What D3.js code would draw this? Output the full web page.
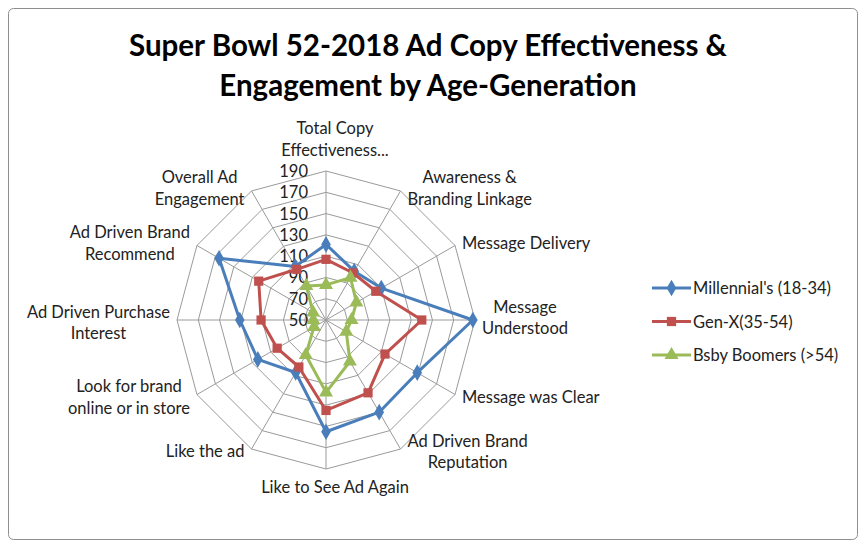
<!DOCTYPE html>
<html>
<head>
<meta charset="utf-8">
<script src="https://cdn.jsdelivr.net/npm/d3@7"></script>
<style>
  html, body { margin: 0; padding: 0; background: #fff; }
  svg { display: block; }
  text { font-family: Lato, "Open Sans", sans-serif; }
</style>
</head>
<body>
<svg id="chart" width="866" height="548"></svg>
<script>
// ---------- data ----------
const categories = [
  ["Total Copy", "Effectiveness..."],
  ["Awareness &", "Branding Linkage"],
  ["Message Delivery"],
  ["Message", "Understood"],
  ["Message was Clear"],
  ["Ad Driven Brand", "Reputation"],
  ["Like to See Ad Again"],
  ["Like the ad"],
  ["Look for brand", "online or in store"],
  ["Ad Driven Purchase", "Interest"],
  ["Ad Driven  Brand", "Recommend"],
  ["Overall Ad", "Engagement"]
];
const seriesNames = ["Millennial's (18-34)", "Gen-X(35-54)", "Bsby Boomers (>54)"];
const millennials = [121, 103, 110, 188, 149, 150, 155, 107, 124, 131, 166, 108];
const genX        = [107, 101, 104, 140, 114, 129, 135, 101, 103, 111, 123, 105];
const boomers     = [83, 96, 83, 74, 72, 95, 118, 88, 63, 62, 64, 87];
const tickValues = [50, 70, 90, 110, 130, 150, 170, 190];
const titleLines = ["Super Bowl 52-2018 Ad Copy Effectiveness &", "Engagement by Age-Generation"];

const seriesData = [millennials, genX, boomers];
const colors = ["#4A7EBB", "#C0504D", "#9BBB59"];
const markers = [d3.symbolDiamond, d3.symbolSquare, d3.symbolTriangle];
const markerSizes = [80, 85, 85];

// ---------- layout ----------
const svg = d3.select("#chart");
const cx = 326, cy = 320, R = 149;
const r = d3.scaleLinear().domain([50, 190]).range([0, R]);
const n = categories.length;
const angle = d3.scaleLinear().domain([0, n]).range([0, 2 * Math.PI]);
const px = (i, v) => cx + r(v) * Math.sin(angle(i));
const py = (i, v) => cy - r(v) * Math.cos(angle(i));
const FS = 16.5;

// border
svg.append("rect").attr("x", 8.5).attr("y", 8.5).attr("width", 849).attr("height", 531)
  .attr("rx", 5).attr("fill", "#fff").attr("stroke", "#8f8f8f").attr("stroke-width", 1);

// title
svg.append("g").selectAll("text").data(titleLines).join("text")
  .attr("x", 428).attr("y", (d, i) => 56 + i * 40)
  .attr("text-anchor", "middle")
  .attr("font-size", 29.5).attr("font-weight", "bold").attr("fill", "#000")
  .text(d => d);

// grid rings
const grid = svg.append("g");
tickValues.filter(t => t > 50).forEach(t => {
  const pts = d3.range(n).map(i => [px(i, t), py(i, t)]);
  grid.append("path").attr("d", d3.line()(pts) + "Z")
    .attr("fill", "none").attr("stroke", "#9a9a9a").attr("stroke-width", 1);
});
// spokes
d3.range(n).forEach(i => {
  grid.append("line").attr("x1", cx).attr("y1", cy)
    .attr("x2", px(i, 190)).attr("y2", py(i, 190))
    .attr("stroke", "#9a9a9a").attr("stroke-width", 1);
});

// tick labels
svg.append("g").selectAll("text").data(tickValues).join("text")
  .attr("x", cx - 18).attr("y", d => cy - r(d) + 6)
  .attr("text-anchor", "end").attr("font-size", FS).attr("fill", "#222")
  .text(d => d);

// category labels
const labG = svg.append("g");
categories.forEach((lines, i) => {
  const a = angle(i), s = Math.sin(a), c = Math.cos(a);
  const gap = 7;
  const vx = px(i, 190), vy = py(i, 190);
  const lh = 21.5;
  const g = labG.append("g");
  const texts = lines.map((ln, k) => g.append("text")
    .attr("font-size", FS).attr("fill", "#222").attr("text-anchor", "middle").text(ln));
  const w = d3.max(texts, t => t.node().getComputedTextLength());
  let bx;
  if (s > 0.1) bx = vx + gap + w / 2;
  else if (s < -0.1) bx = vx - gap - w / 2;
  else bx = vx + 9;
  const h = lines.length * lh;
  let top;
  if (Math.abs(s) < 0.1 && c > 0) top = vy - 10 - h;
  else if (Math.abs(s) < 0.1 && c < 0) top = vy + 8;
  else top = vy - h / 2 + (c > 0 ? -2 : 3);
  texts.forEach((t, k) => t.attr("x", bx).attr("y", top + lh * k + 16));
});

// series
const lineGen = d3.line().x(d => d[0]).y(d => d[1]);
seriesData.forEach((vals, si) => {
  const pts = vals.map((v, i) => [px(i, v), py(i, v)]);
  const g = svg.append("g");
  g.append("path").attr("d", lineGen(pts) + "Z")
    .attr("fill", "none").attr("stroke", colors[si]).attr("stroke-width", 3)
    .attr("stroke-linejoin", "round");
  g.selectAll("path.m").data(pts).join("path").attr("class", "m")
    .attr("transform", d => `translate(${d[0]},${d[1]})`)
    .attr("d", d3.symbol().type(markers[si]).size(markerSizes[si]))
    .attr("fill", colors[si]);
});

// legend
const leg = svg.append("g");
seriesNames.forEach((name, si) => {
  const y = 288 + si * 33.5;
  leg.append("line").attr("x1", 652).attr("x2", 691).attr("y1", y).attr("y2", y)
    .attr("stroke", colors[si]).attr("stroke-width", 3);
  leg.append("path").attr("transform", `translate(671.5,${y})`)
    .attr("d", d3.symbol().type(markers[si]).size(markerSizes[si])).attr("fill", colors[si]);
  leg.append("text").attr("x", 693).attr("y", y + 6).attr("font-size", FS)
    .attr("fill", "#222").text(name);
});
</script>
</body>
</html>
